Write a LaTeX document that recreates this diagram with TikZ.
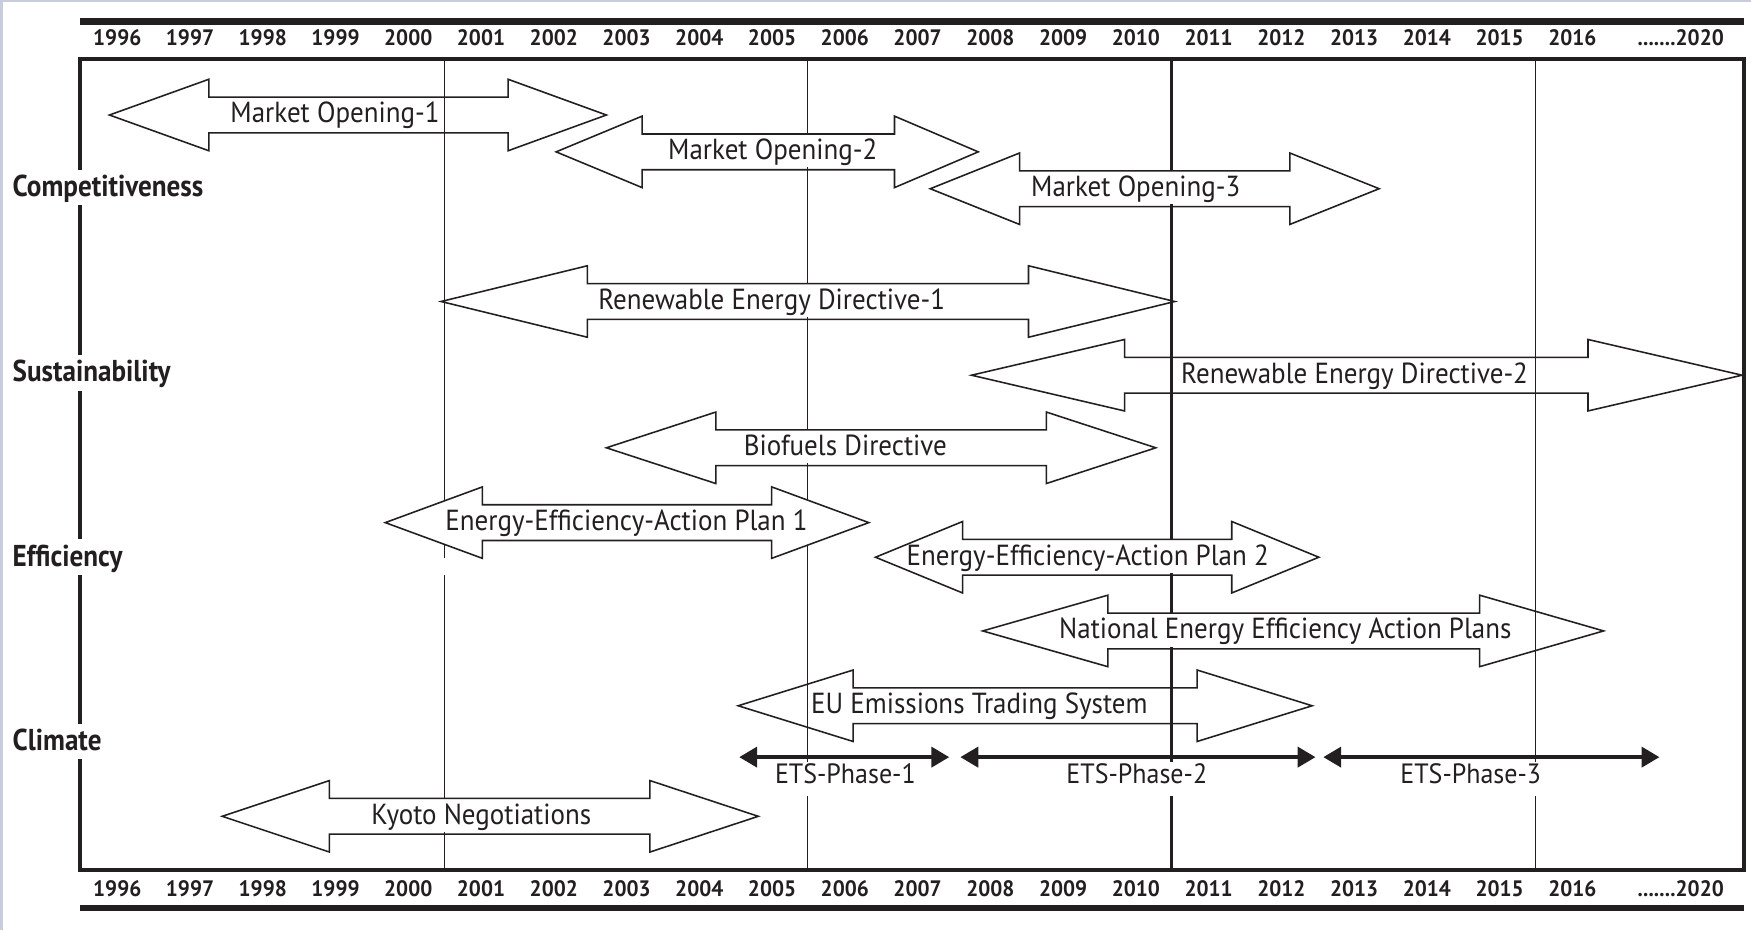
\documentclass[tikz,border=0pt]{standalone}
\usepackage{fontspec}
\setmainfont{PT Sans}
\newfontfamily\lblfont[FakeStretch=0.93]{PT Sans}
\newfontfamily\yrfont[FakeStretch=0.95]{PT Sans}
\newfontfamily\catfont[FakeStretch=0.9]{PT Sans}
\usetikzlibrary{arrows.meta}
\definecolor{edge}{RGB}{200,204,222}
\definecolor{ink}{RGB}{35,31,32}
\newcommand\arrpath[5]{% y, tipL, baseL, baseR, tipR
  (#2,#1) -- (#3,#1-32) -- (#3,#1-16) -- (#4,#1-16) -- (#4,#1-32) -- (#5,#1)
    -- (#4,#1+32) -- (#4,#1+16) -- (#3,#1+16) -- (#3,#1+32) -- cycle}
\newcommand\blockarr[5]{\draw[blockarrow] \arrpath{#1}{#2}{#3}{#4}{#5};}
\begin{document}
\begin{tikzpicture}[x=0.5pt,y=-0.5pt,
  framebox/.style={line width=1.8pt, draw=ink},
  rule/.style={line width=3pt, draw=ink},
  gridline/.style={line width=0.6pt, draw=ink},
  gridbold/.style={line width=1.1pt, draw=ink},
  blockarrow/.style={draw=ink, line width=0.7pt, line join=miter},
  lbl/.style={font=\lblfont\fontsize{13}{15}\selectfont, text=ink, fill=white, inner xsep=1.5pt, inner ysep=0pt, text height=11.5pt, text depth=3.5pt, anchor=base},
  phaselbl/.style={font=\lblfont\fontsize{12.5}{14}\selectfont, text=ink, fill=white, inner xsep=1.5pt, inner ysep=0pt, text height=10pt, text depth=5.5pt, anchor=base},
  year/.style={font=\yrfont\bfseries\fontsize{10}{12}\selectfont, text=ink, anchor=base, inner sep=0pt},
  cat/.style={font=\catfont\bfseries\fontsize{13.5}{15}\selectfont, text=ink, fill=white, inner xsep=0.5pt, inner ysep=0pt, text height=12pt, text depth=4pt, anchor=base west},
  phase/.style={line width=1.6pt, draw=ink, {Triangle[length=8pt,width=9pt]}-{Triangle[length=8pt,width=9pt]}}
]
\useasboundingbox (0,0) rectangle (1568,833);
\fill[white] (0,0) rectangle (1568,833);
\fill[edge] (0,0) rectangle (3,833);
\fill[edge] (0,0) rectangle (1568,1.5);

% grid lines
\draw[gridline] (398,53) -- (398,779);
\draw[gridline] (723,53) -- (723,779);
\draw[gridbold] (1049,53) -- (1049,779);
\draw[gridline] (1375,53) -- (1375,779);

% frame and rules
\draw[framebox] (72,53) rectangle (1562,779);
\draw[rule] (72,19) -- (1562,19);
\draw[rule] (72,813) -- (1562,813);

% white-filled arrow (Energy-Efficiency-Action Plan 1)
\fill[white] \arrpath{468}{345}{432}{691}{778};
\fill[white] (394,500) rectangle (402,515);

% labels
\node[lbl] (mo1) at (300,110) {Market Opening-1};
\node[lbl] (mo2) at (692,143) {Market Opening-2};
\node[lbl] (mo3) at (1017,176) {Market Opening-3};
\node[lbl] (red1) at (691,277) {Renewable Energy Directive-1};
\node[lbl] (red2) at (1213,343) {Renewable Energy Directive-2};
\node[lbl] (bio) at (757,408) {Biofuels Directive};
\node[lbl] (eeap1) at (561,475) {Energy-Efficiency-Action Plan 1};
\node[lbl] (eeap2) at (974,506) {Energy-Efficiency-Action Plan 2};
\node[lbl] (neeap) at (1151,572) {National Energy Efficiency Action Plans};
\node[lbl] (euets) at (877,639) {EU Emissions Trading System};
\node[lbl] (kyoto) at (431,738) {Kyoto Negotiations};

% block arrow outlines
\blockarr{103}{98}{187}{455}{543}
\blockarr{136}{498}{575}{801}{876}
\blockarr{169}{833}{913}{1155}{1235}
\blockarr{270}{395}{526}{921}{1052}
\blockarr{336}{870}{1007}{1422}{1560}
\blockarr{401}{543}{641}{937}{1035}
\blockarr{468}{345}{432}{691}{778}
\blockarr{499}{784}{862}{1103}{1181}
\blockarr{565}{880}{992}{1325}{1436}
\blockarr{632}{661}{764}{1072}{1175}
\blockarr{731}{199}{295}{582}{679}

% ETS phases
\coordinate (p1a) at (662,678); \coordinate (p1b) at (850,678);
\coordinate (p2a) at (860,678); \coordinate (p2b) at (1178,678);
\coordinate (p3a) at (1185,678); \coordinate (p3b) at (1486,678);
\draw[phase] (p1a) -- (p1b);
\draw[phase] (p2a) -- (p2b);
\draw[phase] (p3a) -- (p3b);
\node[phaselbl] (ph1) at (757,702) {ETS-Phase-1};
\node[phaselbl] (ph2) at (1018,702) {ETS-Phase-2};
\node[phaselbl] (ph3) at (1317,702) {ETS-Phase-3};

% categories
\node[cat] (ccomp) at (10,176) {Competitiveness};
\node[cat] (csus) at (10,342) {Sustainability};
\node[cat] (ceff) at (10,507) {Efficiency};
\node[cat] (cclim) at (10,672) {Climate};

% years
\foreach \i in {1996,...,2016} {
  \pgfmathsetmacro\xx{105+65.15*(\i-1996)}
  \node[year] (yt\i) at (\xx,41) {\i};
  \node[year] (yb\i) at (\xx,803) {\i};
}
\node[year] (yt2020) at (1505,41) {.......2020};
\node[year] (yb2020) at (1505,803) {.......2020};
\end{tikzpicture}
\end{document}
